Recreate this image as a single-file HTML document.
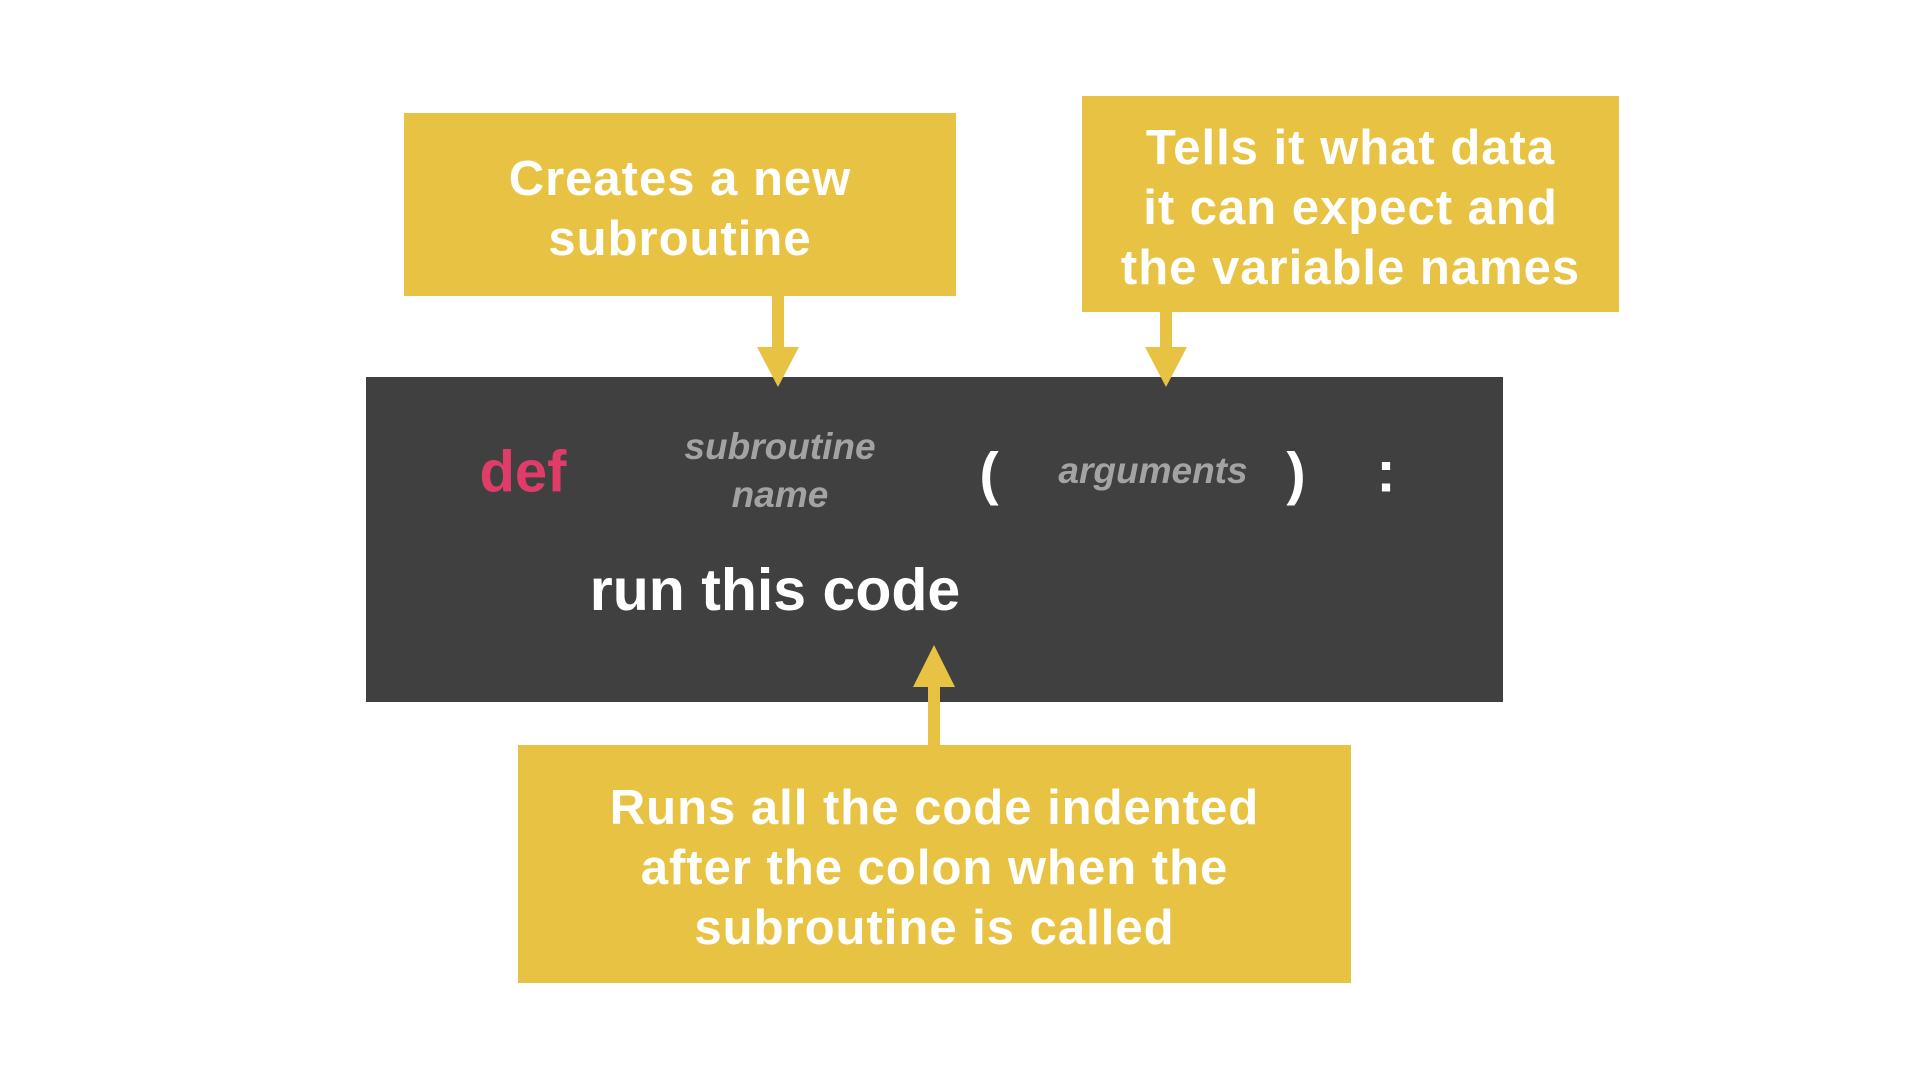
<!DOCTYPE html>
<html><head><style>
body{margin:0;width:1920px;height:1080px;background:#fff;position:relative;overflow:hidden;font-family:"Liberation Sans",Helvetica,Arial,sans-serif;}
.b{position:absolute;background:#e8c343;color:#fff;font-weight:bold;text-align:center;display:flex;align-items:center;justify-content:center;font-size:49px;line-height:60px;letter-spacing:1px;box-sizing:border-box;padding-top:8px;}
.d{position:absolute;left:366px;top:377px;width:1137px;height:325px;background:#404040;}
.t{position:absolute;font-weight:bold;white-space:nowrap;transform:translate(-50%,-50%);}
.g{color:#a3a3a3;font-style:italic;font-size:37px;line-height:48px;text-align:center;}
.w{color:#fff;}
</style></head><body>
<div class="b" style="left:404px;top:113px;width:552px;height:183px;">Creates a new<br>subroutine</div>
<div class="b" style="left:1082px;top:96px;width:537px;height:216px;">Tells it what data<br>it can expect and<br>the variable names</div>
<div class="d"></div>
<div class="b" style="left:518px;top:745px;width:833px;height:238px;">Runs all the code indented<br>after the colon when the<br>subroutine is called</div>
<svg style="position:absolute;left:0;top:0" width="1920" height="1080">
<rect x="772" y="296" width="12" height="55" fill="#e8c343"/>
<polygon points="757,347 799,347 778,387" fill="#e8c343"/>
<rect x="1160" y="312" width="12" height="39" fill="#e8c343"/>
<polygon points="1145,347 1187,347 1166,387" fill="#e8c343"/>
<rect x="928" y="682" width="12" height="64" fill="#e8c343"/>
<polygon points="913,687 955,687 934,645" fill="#e8c343"/>
</svg>
<div class="t" style="left:523px;top:472px;color:#e03c6a;font-size:58px;">def</div>
<div class="t g" style="left:780px;top:471px;">subroutine<br>name</div>
<div class="t w" style="left:989px;top:474px;font-size:58px;">(</div>
<div class="t g" style="left:1153px;top:471px;">arguments</div>
<div class="t w" style="left:1296px;top:474px;font-size:58px;">)</div>
<div class="t w" style="left:1386px;top:472px;font-size:58px;">:</div>
<div class="t w" style="left:775px;top:590px;font-size:59px;">run this code</div>
</body></html>
